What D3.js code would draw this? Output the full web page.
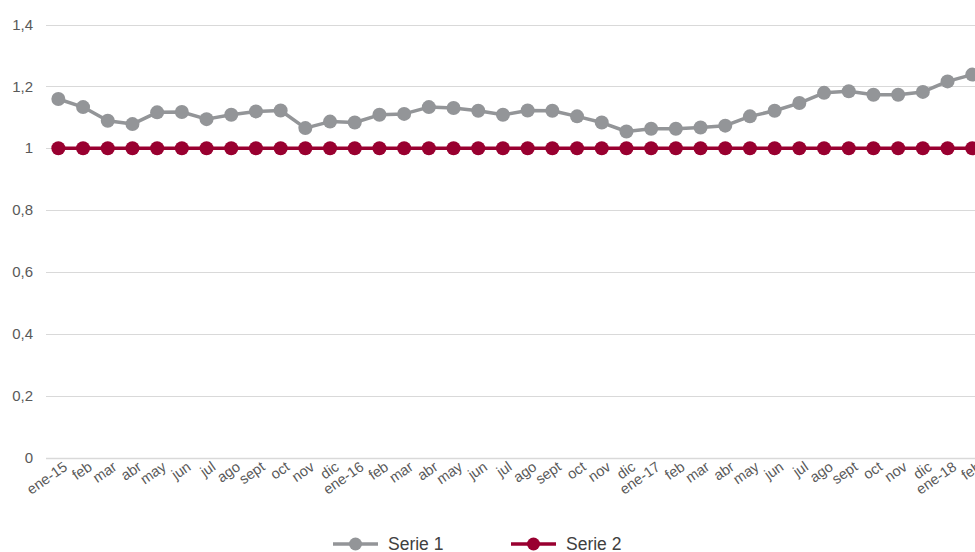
<!DOCTYPE html>
<html>
<head>
<meta charset="utf-8">
<script src="https://cdn.jsdelivr.net/npm/d3@7"></script>
<style>
  html, body { margin: 0; padding: 0; background: #fff; overflow: hidden; }
  svg { display: block; font-family: "Liberation Sans", Arial, sans-serif; }
</style>
</head>
<body>
<svg id="chart" width="975" height="552"></svg>
<script>
// Month labels along the x axis
const months = ["ene-15","feb","mar","abr","may","jun","jul","ago","sept","oct","nov","dic",
                "ene-16","feb","mar","abr","may","jun","jul","ago","sept","oct","nov","dic",
                "ene-17","feb","mar","abr","may","jun","jul","ago","sept","oct","nov","dic",
                "ene-18","feb"];

// Series values, one per month
const serie1 = [1.159,1.133,1.089,1.078,1.116,1.117,1.094,1.108,1.119,1.122,1.065,1.086,
                1.083,1.108,1.111,1.133,1.130,1.121,1.108,1.122,1.121,1.103,1.083,1.054,
                1.063,1.063,1.067,1.073,1.103,1.121,1.146,1.179,1.184,1.173,1.173,1.182,
                1.216,1.238];
const serie2 = [1,1,1,1,1,1,1,1,1,1,1,1,
                1,1,1,1,1,1,1,1,1,1,1,1,
                1,1,1,1,1,1,1,1,1,1,1,1,
                1,1];

const yTicks = [0, 0.2, 0.4, 0.6, 0.8, 1, 1.2, 1.4];
const yTickLabels = ["0", "0,2", "0,4", "0,6", "0,8", "1", "1,2", "1,4"];

const seriesNames = ["Serie 1", "Serie 2"];
const seriesColors = ["#939598", "#990030"];

const svg = d3.select("#chart");
const plotLeft = 46, plotRight = 984.6, plotTop = 24.5, plotBottom = 457.5;

const x = d3.scalePoint()
  .domain(d3.range(months.length))
  .range([plotLeft, plotRight])
  .padding(0.5);

const y = d3.scaleLinear().domain([0, 1.4]).range([plotBottom, plotTop]);

// Horizontal gridlines
svg.append("g").selectAll("line")
  .data(yTicks)
  .join("line")
  .attr("x1", plotLeft).attr("x2", 975)
  .attr("y1", d => Math.round(y(d)) + 0.5)
  .attr("y2", d => Math.round(y(d)) + 0.5)
  .attr("stroke", "#d9d9d9")
  .attr("stroke-width", d => d === 0 ? 1.5 : 1);

// Y axis labels
svg.append("g").selectAll("text")
  .data(yTicks)
  .join("text")
  .attr("x", 33)
  .attr("y", d => y(d))
  .attr("dy", "0.35em")
  .attr("text-anchor", "end")
  .attr("font-size", 15)
  .attr("fill", "#595959")
  .text((d, i) => yTickLabels[i]);

// X axis labels, rotated
svg.append("g").selectAll("text")
  .data(months)
  .join("text")
  .attr("text-anchor", "end")
  .attr("font-size", 14.5)
  .attr("fill", "#595959")
  .attr("transform", (d, i) => `translate(${x(i) + 10},${469}) rotate(-35)`)
  .text(d => d);

// Lines and markers
const line = d3.line().x((d, i) => x(i)).y(d => y(d));
[serie1, serie2].forEach((s, k) => {
  const g = svg.append("g");
  g.append("path")
    .datum(s)
    .attr("d", line)
    .attr("fill", "none")
    .attr("stroke", seriesColors[k])
    .attr("stroke-width", 3.5)
    .attr("stroke-linejoin", "round");
  g.selectAll("circle")
    .data(s)
    .join("circle")
    .attr("cx", (d, i) => x(i))
    .attr("cy", d => y(d))
    .attr("r", 7)
    .attr("fill", seriesColors[k]);
});

// Legend
const legendX = [333, 511];
const legend = svg.append("g");
seriesNames.forEach((name, k) => {
  const lg = legend.append("g").attr("transform", `translate(${legendX[k]},544)`);
  lg.append("line")
    .attr("x1", 0).attr("x2", 45)
    .attr("stroke", seriesColors[k]).attr("stroke-width", 3.5);
  lg.append("circle").attr("cx", 22.5).attr("r", 6.5).attr("fill", seriesColors[k]);
  lg.append("text")
    .attr("x", 55).attr("dy", "0.35em")
    .attr("font-size", 17.5)
    .attr("fill", "#404040")
    .text(name);
});
</script>
</body>
</html>
